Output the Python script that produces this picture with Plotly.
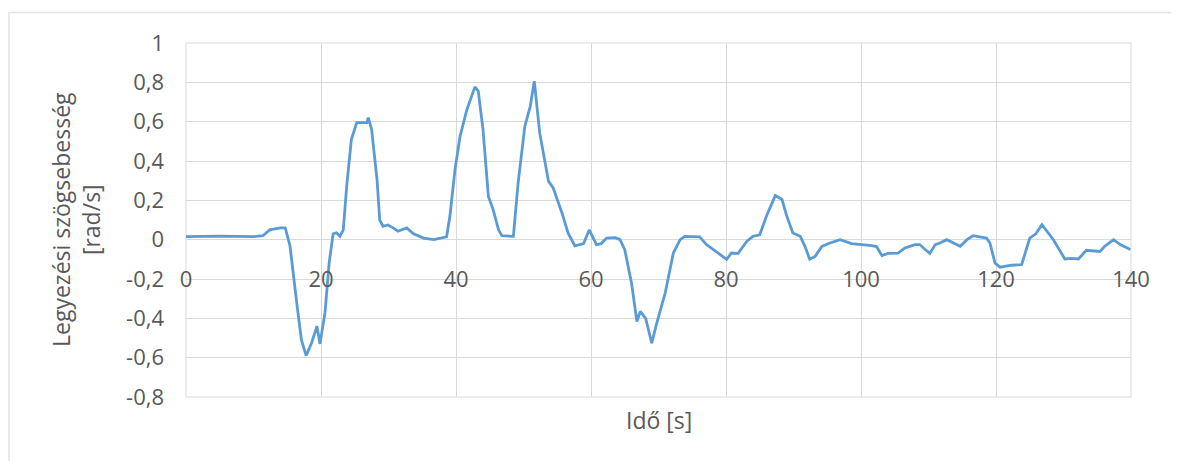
import plotly.graph_objects as go

# Time [s]
time_s = [0, 5, 10, 11.4, 12.4, 14.0, 14.7, 15.4, 16.4, 17.1,
          17.8, 18.6, 19.4, 19.85, 20.6, 21.2, 21.8, 22.3, 22.8, 23.3,
          23.8, 24.5, 25.3, 26.8, 27.0, 27.5, 28.3, 28.7, 29.2, 29.9,
          30.7, 31.4, 32.7, 33.7, 35.2, 36.7, 38.6, 39.1, 39.85, 40.6,
          41.6, 42.8, 43.3, 44.0, 44.8, 45.5, 46.3, 46.8, 48.5, 49.2,
          50.2, 51.0, 51.6, 52.4, 53.7, 54.4, 55.7, 56.6, 57.6, 58.9,
          59.75, 60.8, 61.5, 62.3, 63.6, 64.3, 65.0, 66.0, 66.8, 67.3,
          68.1, 69.0, 69.7, 71.0, 72.2, 73.2, 73.9, 76.1, 77.1, 78.1,
          79.4, 80.1, 80.8, 81.8, 83.1, 84.0, 85.0, 86.0, 87.3, 88.3,
          89.0, 89.9, 91.0, 91.7, 92.4, 93.2, 94.2, 95.4, 96.9, 98.6,
          101.6, 102.3, 103.1, 104.0, 105.5, 106.5, 108.0, 108.7, 109.5, 110.2,
          111.0, 111.7, 112.7, 113.7, 114.7, 115.7, 116.6, 118.6, 119.1, 119.85,
          120.6, 122.3, 123.8, 125.0, 125.9, 126.8, 127.5, 128.5, 130.2, 131.2,
          132.2, 133.4, 135.4, 136.1, 137.4, 138.4, 139.9]

# Yaw rate [rad/s]
yaw_rate = [0.015, 0.018, 0.015, 0.02, 0.05, 0.06, 0.06, -0.03, -0.32, -0.51,
            -0.59, -0.525, -0.44, -0.53, -0.37, -0.12, 0.03, 0.035, 0.017, 0.05,
            0.27, 0.51, 0.595, 0.595, 0.62, 0.56, 0.305, 0.10, 0.068, 0.075,
            0.06, 0.043, 0.06, 0.03, 0.008, 0.0, 0.014, 0.12, 0.356, 0.526,
            0.66, 0.777, 0.755, 0.56, 0.22, 0.153, 0.05, 0.02, 0.017, 0.288,
            0.577, 0.678, 0.806, 0.543, 0.297, 0.263, 0.136, 0.034, -0.031, -0.02,
            0.05, -0.025, -0.02, 0.008, 0.01, 0.0, -0.051, -0.22, -0.416, -0.365,
            -0.40, -0.526, -0.43, -0.27, -0.068, 0.0, 0.017, 0.014, -0.025, -0.05,
            -0.085, -0.10, -0.068, -0.07, -0.008, 0.017, 0.025, 0.12, 0.224, 0.204,
            0.12, 0.034, 0.017, -0.034, -0.10, -0.085, -0.034, -0.017, 0.0, -0.02,
            -0.03, -0.035, -0.081, -0.07, -0.068, -0.042, -0.025, -0.025, -0.05, -0.07,
            -0.025, -0.017, 0.0, -0.017, -0.034, 0.0, 0.02, 0.008, -0.017, -0.119,
            -0.14, -0.13, -0.127, 0.008, 0.03, 0.076, 0.042, 0.0, -0.098, -0.095,
            -0.098, -0.054, -0.06, -0.034, 0.0, -0.025, -0.05]

x_tickvals = [0, 20, 40, 60, 80, 100, 120, 140]
x_ticktext = ["0", "20", "40", "60", "80", "100", "120", "140"]
y_tickvals = [1, 0.8, 0.6, 0.4, 0.2, 0, -0.2, -0.4, -0.6, -0.8]
y_ticktext = ["1", "0,8", "0,6", "0,4", "0,2", "0", "-0,2", "-0,4", "-0,6", "-0,8"]

x_title = "Idő [s]"
y_title = "Legyezési szögsebesség<br>[rad/s]"

FONT = "Open Sans"
TXT = "#595959"
GRID = "#d9d9d9"

y_min, y_max = -0.8, 1.0

# the page body has an 8px margin, so the figure is sized/shifted to fit the window
W, H = 1171, 453
ML, MR, MT, MB = 178, 48, 35, 64
PW, PH = W - ML - MR, H - MT - MB

fig = go.Figure()
fig.add_trace(go.Scatter(
    x=time_s, y=yaw_rate, mode="lines",
    line=dict(color="#5b9bd5", width=2.8),
    showlegend=False, hoverinfo="skip",
))

fig.update_layout(
    width=W, height=H,
    margin=dict(l=ML, r=MR, t=MT, b=MB, autoexpand=False),
    paper_bgcolor="white", plot_bgcolor="white",
    font=dict(family=FONT, size=22, color=TXT),
    xaxis=dict(
        range=[0, 140], tickvals=x_tickvals, ticktext=x_ticktext,
        showgrid=True, gridcolor=GRID, gridwidth=1,
        zeroline=False, showline=False,
        anchor="free", position=(0 - y_min) / (y_max - y_min),
        ticks="outside", ticklen=20, tickcolor="rgba(0,0,0,0)",
        tickfont=dict(family=FONT, size=22, color=TXT),
    ),
    yaxis=dict(
        range=[y_min, y_max], tickvals=y_tickvals, ticktext=y_ticktext,
        showgrid=True, gridcolor=GRID, gridwidth=1,
        zeroline=True, zerolinecolor=GRID, zerolinewidth=1,
        showline=False, ticklabelstandoff=21,
        tickfont=dict(family=FONT, size=22, color=TXT),
    ),
    shapes=[
        dict(type="rect", xref="paper", yref="paper", x0=0, x1=1, y0=0, y1=1,
             line=dict(color=GRID, width=1), layer="below"),
        dict(type="rect", xref="paper", yref="paper",
             x0=(1 - ML) / PW, x1=(W + 10 - ML) / PW,
             y0=-(MB + 10) / PH, y1=(PH + MT - 4.5) / PH,
             line=dict(color="#e3e3e3", width=1.5), layer="below"),
    ],
    annotations=[
        dict(text=x_title, xref="paper", yref="paper", x=0.5, y=-0.066,
             xanchor="center", yanchor="middle", showarrow=False,
             font=dict(family=FONT, size=23, color=TXT)),
        dict(text=y_title, xref="paper", yref="paper", x=-0.1164, y=0.5,
             xanchor="center", yanchor="middle", showarrow=False, textangle=-90,
             font=dict(family=FONT, size=23, color=TXT)),
    ],
)

fig.write_html("out.html")
